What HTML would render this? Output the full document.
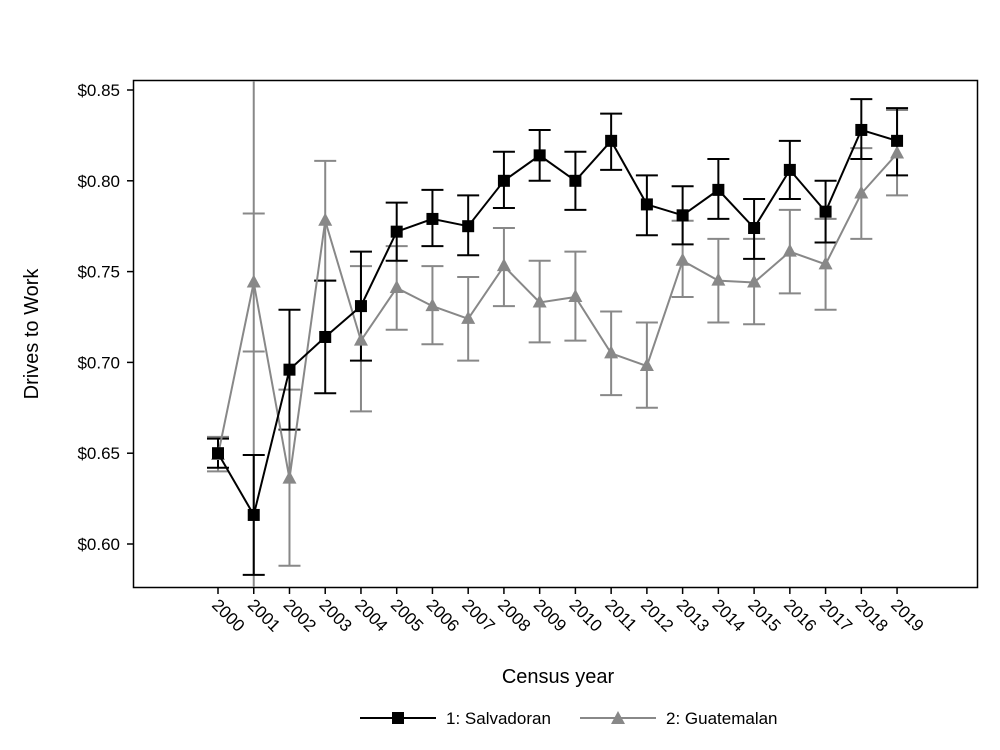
<!DOCTYPE html>
<html><head><meta charset="utf-8"><style>body{margin:0;background:#fff}svg{display:block;font-family:"Liberation Sans",Arial,sans-serif}</style></head>
<body>
<svg id="chart" width="1000" height="750">
<defs><clipPath id="clip"><rect x="134" y="81" width="843" height="506"/></clipPath></defs>
<rect x="0" y="0" width="1000" height="750" fill="#fff"/>
<rect x="133.5" y="80.5" width="844" height="507" fill="#fff" stroke="#000" stroke-width="1.5"/>
<g id="axes"></g>
<g id="marks" clip-path="url(#clip)"></g>
<g id="pts"></g>
<text x="38" y="334" transform="rotate(-90 38 334)" text-anchor="middle" font-size="20">Drives to Work</text>
<text x="558" y="683" text-anchor="middle" font-size="20">Census year</text>
<g>
<line x1="360" y1="718" x2="436" y2="718" stroke="#000" stroke-width="2"/>
<rect x="392" y="712" width="12" height="12" fill="#000"/>
<text x="446" y="724" font-size="17">1: Salvadoran</text>
<line x1="580" y1="718" x2="656" y2="718" stroke="#888" stroke-width="2"/>
<polygon points="618,711 625,724 611,724" fill="#888"/>
<text x="666" y="724" font-size="17">2: Guatemalan</text>
</g>
</svg>
<script>
const years=[2000,2001,2002,2003,2004,2005,2006,2007,2008,2009,2010,2011,2012,2013,2014,2015,2016,2017,2018,2019];
const salv=[0.650,0.616,0.696,0.714,0.731,0.772,0.779,0.775,0.800,0.814,0.800,0.822,0.787,0.781,0.795,0.774,0.806,0.783,0.828,0.822];
const salvLo=[0.642,0.583,0.663,0.683,0.701,0.756,0.764,0.759,0.785,0.800,0.784,0.806,0.770,0.765,0.779,0.757,0.790,0.766,0.812,0.803];
const salvHi=[0.658,0.649,0.729,0.745,0.761,0.788,0.795,0.792,0.816,0.828,0.816,0.837,0.803,0.797,0.812,0.790,0.822,0.800,0.845,0.840];
const guat=[0.649,0.744,0.636,0.778,0.712,0.741,0.731,0.724,0.753,0.733,0.736,0.705,0.698,0.756,0.745,0.744,0.761,0.754,0.793,0.815];
const guatLo=[0.640,0.570,0.588,0.745,0.673,0.718,0.710,0.701,0.731,0.711,0.712,0.682,0.675,0.736,0.722,0.721,0.738,0.729,0.768,0.792];
const guatHi=[0.659,0.920,0.685,0.811,0.753,0.764,0.753,0.747,0.774,0.756,0.761,0.728,0.722,0.778,0.768,0.768,0.784,0.779,0.818,0.839];
const extraCapYears=[2001,2001];
const extraCapVals=[0.706,0.782];
const yTicks=[0.60,0.65,0.70,0.75,0.80,0.85];
const NS="http://www.w3.org/2000/svg";
const X=v=>218+(v-2000)*35.74;
const Y=v=>544-(v-0.60)/0.05*90.8;
function mk(p,t,a){const e=document.createElementNS(NS,t);for(const k in a)e.setAttribute(k,a[k]);p.appendChild(e);return e;}
const axes=document.getElementById('axes'),marks=document.getElementById('marks'),pts=document.getElementById('pts');
yTicks.forEach(t=>{
 const l=mk(axes,'line',{x1:127,x2:133,y1:Y(t),y2:Y(t),stroke:'#000','stroke-width':1.5});
 
 
 const tx=mk(axes,'text',{x:120,y:Y(t)+6,'text-anchor':'end','font-size':17});
 tx.textContent='$'+t.toFixed(2);
 
 
});
years.forEach(yr=>{
 const l=mk(axes,'line',{x1:X(yr),x2:X(yr),y1:588,y2:594,stroke:'#000','stroke-width':1.5});
 
 
 const tx=mk(axes,'text',{x:X(yr)-7,y:606,'font-size':17,transform:`rotate(45 ${X(yr)-7} 606)`});
 tx.textContent=yr;
 
 
});
function series(vals,lo,hi,col,name,marker){
 vals.forEach((v,i)=>{
  const x=X(years[i]);
  const g=mk(marks,'g',{stroke:col,'stroke-width':2});
  
  
  mk(g,'line',{x1:x,x2:x,y1:Y(lo[i]),y2:Y(hi[i])});
  mk(g,'line',{x1:x-11,x2:x+11,y1:Y(lo[i]),y2:Y(lo[i])});
  mk(g,'line',{x1:x-11,x2:x+11,y1:Y(hi[i]),y2:Y(hi[i])});
 });
 const pl=mk(pts,'polyline',{points:vals.map((v,i)=>X(years[i])+','+Y(v)).join(' '),fill:'none',stroke:col,'stroke-width':2});
 
 
 vals.forEach((v,i)=>{
  const x=X(years[i]),y=Y(v);let m;
  if(marker==='sq')m=mk(pts,'rect',{x:x-6,y:y-6,width:12,height:12,fill:col});
  else m=mk(pts,'polygon',{points:`${x},${y-8} ${x+7},${y+5} ${x-7},${y+5}`,fill:col});
  
  
 });
}
series(guat,guatLo,guatHi,'#888','guatemalan','tri');
extraCapVals.forEach((v,i)=>{
 const x=X(extraCapYears[i]);
 const c=mk(marks,'line',{x1:x-11,x2:x+11,y1:Y(v),y2:Y(v),stroke:'#888','stroke-width':2});
 
 
});
series(salv,salvLo,salvHi,'#000','salvadoran','sq');
</script>
</body></html>
